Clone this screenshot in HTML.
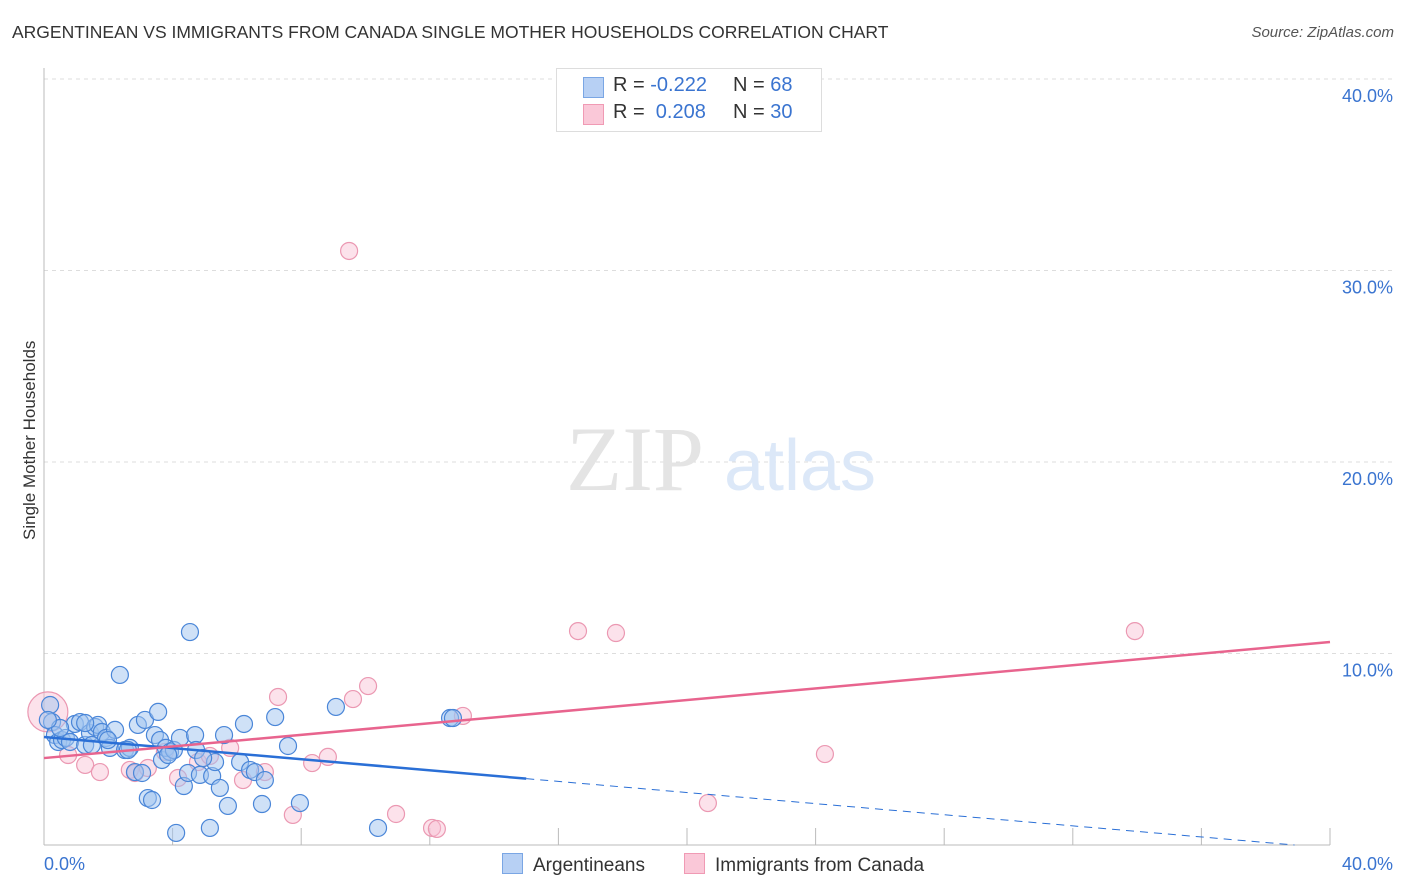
<!DOCTYPE html>
<html><head><meta charset="utf-8"><style>
body{margin:0;background:#fff;font-family:"Liberation Sans",sans-serif}
#wrap{position:relative;width:1406px;height:892px;overflow:hidden}
.t{position:absolute;white-space:nowrap}
</style></head><body>
<div id="wrap">
<div class="t" style="left:12px;top:22px;font-size:17.5px;color:#333">ARGENTINEAN VS IMMIGRANTS FROM CANADA SINGLE MOTHER HOUSEHOLDS CORRELATION CHART</div>
<div class="t" style="right:12px;top:24px;font-size:15px;color:#555;font-style:italic">Source: ZipAtlas.com</div>
<div class="t" style="left:-55px;top:445px;font-size:17px;color:#333;transform:rotate(-90deg);width:170px;text-align:center">Single Mother Households</div>
<svg id="svg" width="1406" height="892" style="position:absolute;left:0;top:0"></svg>
<div class="t" style="left:556px;top:68px;width:264px;height:62px;border:1px solid #ddd;background:#fff;font-size:20px">
 <div style="position:absolute;left:26px;top:8px;width:19px;height:19px;background:#b7d0f4;border:1px solid #7aa6e4"></div>
 <div style="position:absolute;left:56px;top:5px;color:#333">R = <span style="color:#3a74d0">-0.222</span></div>
 <div style="position:absolute;left:176px;top:5px;color:#333">N = <span style="color:#3a74d0">68</span></div>
 <div style="position:absolute;left:26px;top:35px;width:19px;height:19px;background:#fac8d8;border:1px solid #f09ab4"></div>
 <div style="position:absolute;left:56px;top:32px;color:#333">R = &nbsp;<span style="color:#3a74d0">0.208</span></div>
 <div style="position:absolute;left:176px;top:32px;color:#333">N = <span style="color:#3a74d0">30</span></div>
</div>
<div class="t" style="left:502px;top:853px;font-size:19px;color:#333"><span style="display:inline-block;width:19px;height:19px;background:#b7d0f4;border:1px solid #7aa6e4;vertical-align:-3px;margin-right:10px"></span>Argentineans</div>
<div class="t" style="left:684px;top:853px;font-size:19px;color:#333"><span style="display:inline-block;width:19px;height:19px;background:#fac8d8;border:1px solid #f09ab4;vertical-align:-3px;margin-right:10px"></span>Immigrants from Canada</div>
</div>
<script>
const blueX=[0.19,0.25,0.34,0.44,0.56,0.68,0.81,0.96,1.12,1.28,1.43,1.59,1.68,1.80,1.93,2.05,2.21,2.36,2.52,2.67,2.83,2.92,3.05,3.14,3.23,3.36,3.45,3.55,3.61,3.67,3.79,3.92,4.04,4.23,4.35,4.48,4.54,4.70,4.73,4.85,5.16,5.23,5.32,5.47,5.60,5.72,6.10,6.22,6.41,6.56,6.78,6.87,7.19,7.59,7.96,9.08,10.39,12.63,12.72,4.11,1.99,1.28,0.50,0.12,1.49,2.61,3.86,4.95];
const blueY=[7.31,6.42,5.74,5.38,5.48,5.59,5.38,6.32,6.42,5.22,5.85,6.16,6.27,5.90,5.59,5.07,6.01,8.88,4.96,5.07,3.81,6.27,3.76,6.53,2.45,2.35,5.74,6.95,5.48,4.44,5.07,4.86,4.96,5.59,3.08,3.76,11.12,5.74,4.96,3.66,0.89,3.60,4.33,2.98,5.74,2.04,4.33,6.32,3.92,3.81,2.14,3.39,6.68,5.17,2.19,7.21,0.89,6.63,6.63,0.63,5.48,6.37,6.11,6.53,5.22,4.96,4.70,4.54];
const pinkX=[0.12,0.75,1.28,1.74,2.67,2.83,3.23,3.76,4.17,4.79,5.16,5.79,6.19,6.87,7.28,7.74,8.34,8.83,9.61,10.08,10.95,12.07,12.22,13.03,16.61,17.79,20.65,24.29,33.93,9.49];
const pinkY=[6.95,4.70,4.18,3.81,3.92,3.76,4.02,4.86,3.50,4.33,4.65,5.07,3.39,3.81,7.73,1.57,4.28,4.60,7.62,8.30,1.62,0.89,0.84,6.74,11.17,11.07,2.19,4.75,11.17,31.02];
const blueTrend=[5.64,-0.145]; // intercept, slope
const pinkTrend=[4.54,0.1515];
const yTicks=[10,20,30,40];
const yTickLabels=["10.0%","20.0%","30.0%","40.0%"];
const xTicks=[0,4,8,12,16,20,24,28,32,36,40];

const X=v=>44+v*32.15, Y=v=>845-v*19.15;
const svg=document.getElementById('svg'),NS='http://www.w3.org/2000/svg';
function mk(t,a){const e=document.createElementNS(NS,t);for(const k in a)e.setAttribute(k,a[k]);svg.appendChild(e);return e;}
yTicks.forEach((v,i)=>{
 const g=mk('line',{x1:44,x2:1394,y1:Y(v),y2:Y(v),stroke:'#ddd','stroke-dasharray':'4,4'});
 
 
 const t=mk('text',{x:1393,y:Y(v)+23,'text-anchor':'end','font-size':18,fill:'#3a74d0','font-family':'Liberation Sans'});
 t.textContent=yTickLabels[i];
 
 
});
let ax=mk('line',{x1:44,x2:44,y1:68,y2:845,stroke:'#bbb'});


ax=mk('line',{x1:44,x2:1330,y1:845,y2:845,stroke:'#bbb'});


xTicks.forEach(v=>{
 const l=mk('line',{x1:X(v),x2:X(v),y1:828,y2:845,stroke:'#bbb'});
 
 
});
[[0,'0.0%','start',44],[40,'40.0%','end',1393]].forEach(a=>{
 const t=mk('text',{x:a[3],y:870,'text-anchor':a[2],'font-size':18,fill:'#3a74d0','font-family':'Liberation Sans'});
 t.textContent=a[1];
 
 
});
let w=mk('text',{x:635,y:490,'text-anchor':'middle','font-size':92,fill:'#e4e4e4','font-family':'Liberation Serif'});
w.textContent='ZIP';


w=mk('text',{x:800,y:490,'text-anchor':'middle','font-size':72,fill:'#dce8f8','font-family':'Liberation Sans'});
w.textContent='atlas';


pinkX.forEach((x,i)=>{
 const c=mk('circle',{cx:X(x),cy:Y(pinkY[i]),r:i===0?20:8.5,fill:'rgba(248,190,210,0.45)',stroke:'#eb98b2','stroke-width':1.2});
 
 
});
blueX.forEach((x,i)=>{
 const c=mk('circle',{cx:X(x),cy:Y(blueY[i]),r:8.5,fill:'rgba(160,196,240,0.5)',stroke:'#4a86d8','stroke-width':1.2});
 
 
});
const bt=x=>blueTrend[0]+blueTrend[1]*x, pt=x=>pinkTrend[0]+pinkTrend[1]*x;
let l=mk('line',{x1:X(0),y1:Y(bt(0)),x2:X(15),y2:Y(bt(15)),stroke:'#2a6fd6','stroke-width':2.5});


const xe=-blueTrend[0]/blueTrend[1];
l=mk('line',{x1:X(15),y1:Y(bt(15)),x2:X(xe),y2:Y(0),stroke:'#2a6fd6','stroke-width':1,'stroke-dasharray':'8,6'});


l=mk('line',{x1:X(0),y1:Y(pt(0)),x2:X(40),y2:Y(pt(40)),stroke:'#e8648e','stroke-width':2.5});


</script>
</body></html>
